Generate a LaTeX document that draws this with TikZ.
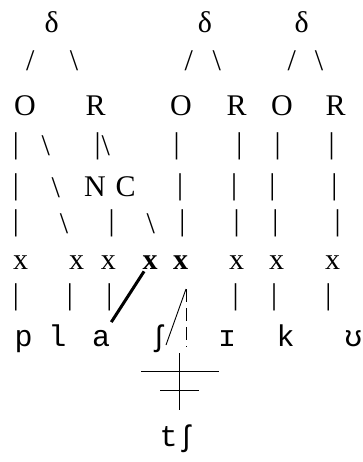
\documentclass[tikz,border=0pt]{standalone}
\usepackage{fontspec}
\setmainfont{Liberation Serif}
\setmonofont{Liberation Mono}
\usetikzlibrary{calc}

\begin{document}
\begin{tikzpicture}[x=1pt, y=-1pt,
  glyph/.style={inner sep=0pt, anchor=base, font=\fontsize{30}{36}\selectfont},
  bglyph/.style={glyph, font=\fontsize{30}{36}\selectfont\bfseries},
  stroke/.style={inner sep=0pt, font=\fontsize{30}{36}\selectfont},
  seg/.style={inner sep=0pt, anchor=base, font=\fontsize{30}{36}\selectfont\ttfamily},
  assoc/.style={line width=3pt},
  link/.style={line width=0.9pt},
  delink/.style={line width=1pt, dash pattern=on 13pt off 6pt}
]
  \useasboundingbox (0,0) rectangle (363,462);

  % syllable tiers
  \node[glyph] (d1) at (51.7,33) {δ};
  \node[glyph] (d2) at (205,33) {δ};
  \node[glyph] (d3) at (301.7,33) {δ};

  \node[stroke] (sl1) at (30.3,61) {/};
  \node[stroke] (bs1) at (74,61) {\textbackslash};
  \node[stroke] (sl2) at (188.7,61) {/};
  \node[stroke] (bs2) at (216.7,61) {\textbackslash};
  \node[stroke] (sl3) at (291.7,61) {/};
  \node[stroke] (bs3) at (319,61) {\textbackslash};

  \node[glyph] (o1) at (25,115.5) {O};
  \node[glyph] (r1) at (95.6,115.5) {R};
  \node[glyph] (o2) at (181,115.5) {O};
  \node[glyph] (r2) at (236.7,115.5) {R};
  \node[glyph] (o3) at (282,115.5) {O};
  \node[glyph] (r3) at (335.6,115.5) {R};

  % association strokes, row by row
  \node[stroke] (p41) at (16,146) {|};
  \node[stroke] (p42) at (45.7,146) {\textbackslash};
  \node[stroke] (p43) at (97.7,146) {|};
  \node[stroke] (p44) at (105.7,146) {\textbackslash};
  \node[stroke] (p45) at (176.7,146) {|};
  \node[stroke] (p46) at (239.3,146) {|};
  \node[stroke] (p47) at (277.7,146) {|};
  \node[stroke] (p48) at (331.7,146) {|};

  \node[stroke] (p51) at (16,187.5) {|};
  \node[stroke] (p52) at (55.7,187.5) {\textbackslash};
  \node[glyph] (n1) at (95,196.7) {N};
  \node[glyph] (c1) at (125.7,196.7) {C};
  \node[stroke] (p53) at (180,187.5) {|};
  \node[stroke] (p54) at (234,187.5) {|};
  \node[stroke] (p55) at (272.3,187.5) {|};
  \node[stroke] (p56) at (334.3,187.5) {|};

  \node[stroke] (p61) at (16,223.7) {|};
  \node[stroke] (p62) at (64,223.7) {\textbackslash};
  \node[stroke] (p63) at (111.7,223.7) {|};
  \node[stroke] (p64) at (150.7,223.7) {\textbackslash};
  \node[stroke] (p65) at (182.3,223.7) {|};
  \node[stroke] (p66) at (236.7,223.7) {|};
  \node[stroke] (p67) at (275.3,223.7) {|};
  \node[stroke] (p68) at (337.7,223.7) {|};

  % skeleton
  \node[glyph] (x1) at (20.7,269) {x};
  \node[glyph] (x2) at (76.7,269) {x};
  \node[glyph] (x3) at (108.3,269) {x};
  \node[bglyph] (x4) at (150,269) {x};
  \node[bglyph] (x5) at (180.7,269) {x};
  \node[glyph] (x6) at (236.7,269) {x};
  \node[glyph] (x7) at (276.7,269) {x};
  \node[glyph] (x8) at (332.7,269) {x};

  \node[stroke] (p81) at (16,297.7) {|};
  \node[stroke] (p82) at (70,297.7) {|};
  \node[stroke] (p83) at (109.3,297.7) {|};
  \node[stroke] (p84) at (235.7,297.7) {|};
  \node[stroke] (p85) at (274,297.7) {|};
  \node[stroke] (p86) at (328.3,297.7) {|};

  % segments
  \node[seg] (sp) at (23.7,346) {p};
  \node[seg] (sl) at (57.3,346) {l};
  \node[seg] (sa) at (101,346) {a};
  \node[seg] (ssh) at (159,346) {ʃ};
  \node[seg] (si) at (227,346) {ɪ};
  \node[seg] (sk) at (285.7,346) {k};
  \node[seg] (su) at (353.3,346) {ʊ};
  \node[seg] (stsh) at (177.5,446) {tʃ};

  % spreading and delinking
  \coordinate (lktop) at (186,289);
  \coordinate (lkbot) at (166,345);
  \coordinate (dlbot) at (186,347);
  \coordinate (crtop) at (179.3,353);
  \coordinate (crbot) at (179.3,410);

  \draw[assoc, shorten <=11pt, shorten >=19pt] (x4.center) -- (sa.center);
  \draw[link] (lktop) -- (lkbot);
  \draw[delink] (lktop) -- (dlbot);
  \draw[link] (crtop) -- (crbot);
  \draw[link] ($(crtop)+(-38.3,18.7)$) -- ($(crtop)+(39.7,18.7)$);
  \draw[link] ($(crtop)+(-19.3,37.7)$) -- ($(crtop)+(20,37.7)$);
\end{tikzpicture}
\end{document}
